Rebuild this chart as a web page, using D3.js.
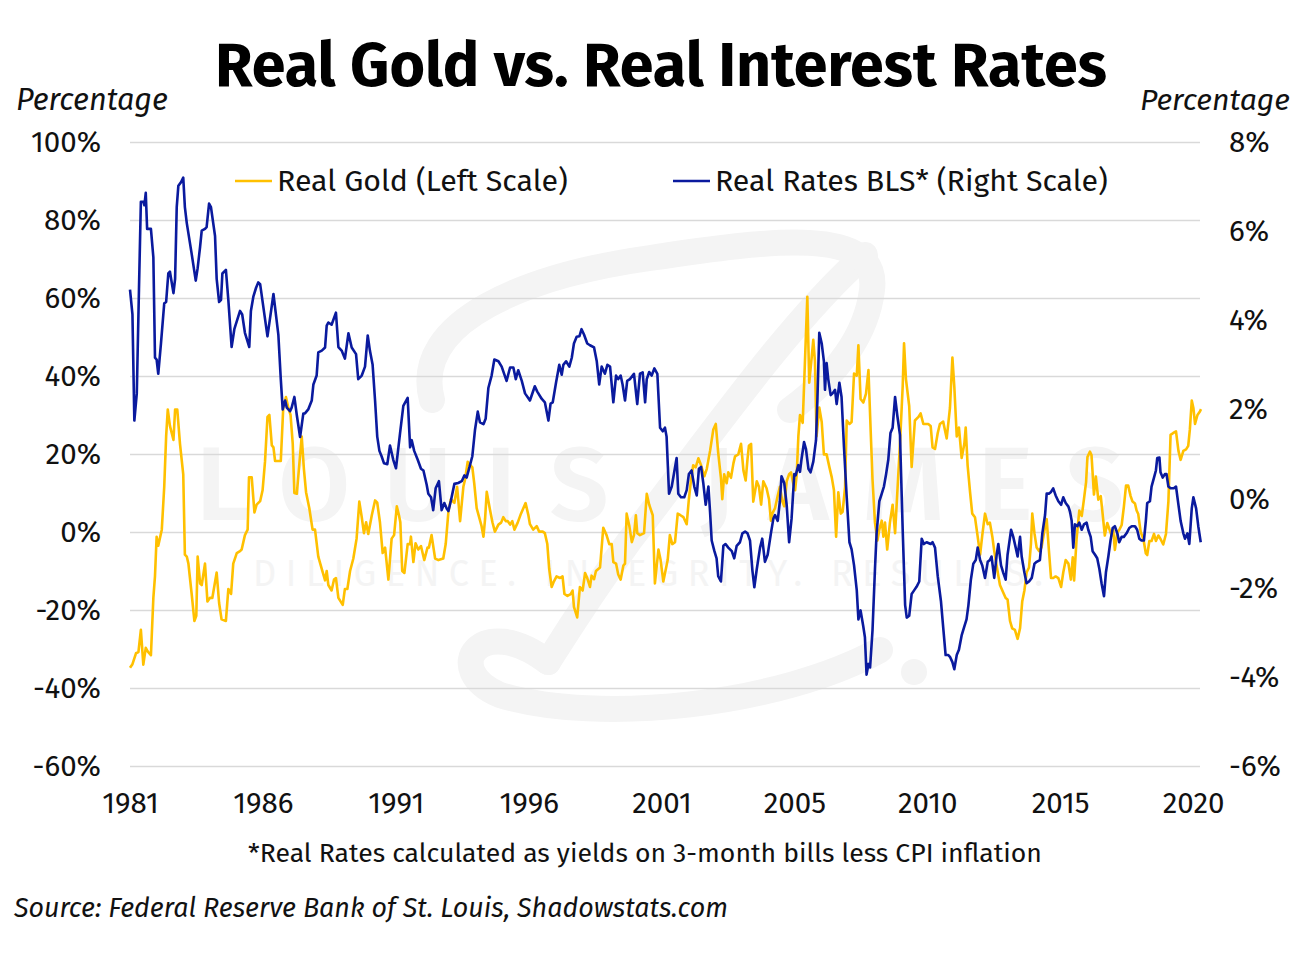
<!DOCTYPE html>
<html><head><meta charset="utf-8">
<script src="https://cdn.jsdelivr.net/npm/d3@7"></script>
<style>body{margin:0;background:#fff;} svg{display:block;} text{font-family:"Fira Sans","Open Sans",sans-serif;}</style>
</head><body>
<svg id="chart" width="1300" height="957"></svg>
<script>
// ---- DATA ----
const goldSeries = [[1981.00,-34.8],[1981.09,-33.9],[1981.22,-31.1],[1981.31,-30.8],[1981.40,-25.1],[1981.49,-34.0],[1981.58,-29.7],[1981.65,-30.6],[1981.77,-31.6],[1981.86,-16.9],[1981.92,-11.3],[1981.98,-1.2],[1982.04,-3.5],[1982.17,0.6],[1982.26,11.6],[1982.33,24.5],[1982.39,31.4],[1982.47,27.2],[1982.60,23.6],[1982.66,31.4],[1982.74,31.4],[1982.84,22.6],[1982.96,14.8],[1983.02,-5.8],[1983.09,-6.3],[1983.15,-8.1],[1983.27,-15.9],[1983.37,-22.8],[1983.44,-21.5],[1983.49,-6.3],[1983.58,-13.2],[1983.64,-13.6],[1983.76,-8.1],[1983.85,-17.8],[1983.94,-16.9],[1984.03,-16.9],[1984.19,-10.4],[1984.28,-18.2],[1984.37,-22.4],[1984.53,-22.8],[1984.62,-14.6],[1984.72,-15.9],[1984.80,-8.1],[1984.93,-5.4],[1985.05,-4.9],[1985.11,-4.5],[1985.23,-0.8],[1985.33,0.6],[1985.38,14.0],[1985.48,14.0],[1985.58,5.0],[1985.66,7.0],
[1985.79,7.9],[1985.88,10.7],[1985.97,18.1],[1986.06,29.5],[1986.13,30.0],[1986.22,22.2],[1986.28,21.7],[1986.34,18.2],[1986.46,18.2],[1986.55,18.2],[1986.64,31.8],[1986.74,34.6],[1986.83,31.8],[1986.91,30.0],[1986.99,22.6],[1987.05,10.0],[1987.14,9.8],[1987.23,17.2],[1987.32,24.5],[1987.40,16.2],[1987.48,10.2],[1987.60,6.1],[1987.72,0.6],[1987.81,0.6],[1987.93,-6.3],[1988.06,-9.5],[1988.18,-12.4],[1988.24,-10.0],[1988.30,-13.6],[1988.42,-15.0],[1988.51,-12.2],[1988.58,-11.8],[1988.67,-16.9],[1988.83,-18.7],[1988.91,-14.6],[1989.00,-14.6],[1989.10,-10.0],[1989.22,-6.8],[1989.34,-1.7],[1989.44,7.8],[1989.53,3.8],[1989.61,-0.3],[1989.69,2.5],[1989.77,-0.5],[1989.90,4.3],[1990.02,8.1],[1990.10,7.5],[1990.20,2.5],[1990.30,-5.4],[1990.39,-4.0],[1990.51,-12.2],[1990.63,-1.7],[1990.72,-0.8],[1990.82,6.6],[1990.90,4.3],[1990.95,2.5],
[1991.02,-10.0],[1991.10,-10.5],[1991.22,-3.1],[1991.31,-3.1],[1991.34,-1.2],[1991.43,-7.7],[1991.51,-2.9],[1991.61,-4.5],[1991.71,-3.6],[1991.83,-7.2],[1991.95,-4.0],[1992.00,-4.0],[1992.10,-0.8],[1992.23,-6.8],[1992.35,-7.2],[1992.53,-6.8],[1992.62,-3.1],[1992.72,5.2],[1992.81,8.4],[1992.94,7.5],[1993.04,11.6],[1993.15,2.8],[1993.27,11.6],[1993.33,13.4],[1993.43,18.0],[1993.48,17.5],[1993.60,16.6],[1993.67,12.5],[1993.76,6.1],[1993.85,3.8],[1993.94,1.5],[1994.01,-1.2],[1994.07,3.4],[1994.13,10.3],[1994.25,5.7],[1994.34,2.5],[1994.43,0.1],[1994.56,1.9],[1994.66,2.4],[1994.74,3.8],[1994.83,2.8],[1994.90,2.8],[1994.99,1.9],[1995.07,2.8],[1995.15,0.6],[1995.27,2.4],[1995.39,4.7],[1995.56,7.4],[1995.66,4.4],
[1995.72,2.0],[1995.84,0.6],[1995.97,1.5],[1996.06,0.1],[1996.19,0.1],[1996.27,-0.3],[1996.36,-3.1],[1996.43,-9.5],[1996.52,-14.1],[1996.60,-12.7],[1996.70,-11.4],[1996.83,-11.8],[1996.92,-11.4],[1996.99,-15.9],[1997.10,-16.4],[1997.22,-15.9],[1997.29,-15.0],[1997.34,-19.2],[1997.46,-21.9],[1997.56,-14.1],[1997.66,-15.0],[1997.75,-10.5],[1997.83,-11.8],[1997.93,-14.1],[1997.99,-11.2],[1998.08,-12.1],[1998.15,-10.0],[1998.30,-9.1],[1998.42,1.1],[1998.54,-0.8],[1998.64,-3.1],[1998.73,-3.1],[1998.79,-7.7],[1998.89,-8.1],[1998.97,-10.9],[1999.06,-12.2],[1999.16,-8.6],[1999.22,-8.1],[1999.28,4.7],[1999.38,1.5],[1999.47,-2.6],[1999.55,-0.8],[1999.62,4.3],[1999.67,-0.3],[1999.77,-0.8],[1999.92,-0.3],[2000.02,9.8],[2000.11,7.0],[2000.24,4.3],[2000.32,-13.2],[2000.45,-4.5],[2000.53,-7.2],[2000.63,-12.7],
[2000.79,-7.2],[2000.87,-0.8],[2000.96,-3.1],[2001.06,-2.6],[2001.16,4.7],[2001.26,4.3],[2001.37,3.8],[2001.49,2.0],[2001.57,8.4],[2001.65,13.4],[2001.73,17.1],[2001.82,16.6],[2001.92,18.9],[2002.02,17.1],[2002.14,14.3],[2002.23,16.2],[2002.35,20.8],[2002.47,26.3],[2002.56,27.7],[2002.65,20.3],[2002.75,13.9],[2002.80,8.4],[2002.87,14.8],[2002.96,12.5],[2003.02,15.3],[2003.12,13.9],[2003.21,17.6],[2003.27,19.4],[2003.39,19.9],[2003.49,22.6],[2003.58,15.7],[2003.66,13.2],[2003.73,18.8],[2003.78,22.1],[2003.86,22.6],[2003.94,7.8],[2004.07,13.0],[2004.15,11.6],[2004.23,7.0],[2004.31,13.0],[2004.43,11.2],[2004.52,8.4],[2004.59,2.9],[2004.64,4.7],[2004.74,6.1],[2004.84,9.3],[2004.92,11.6],[2005.01,7.9],[2005.08,6.6],[2005.17,13.0],[2005.26,14.8],[2005.33,15.3],[2005.41,12.5],[2005.48,10.7],[2005.54,14.8],[2005.60,24.5],
[2005.66,30.0],[2005.76,28.0],[2005.93,60.3],[2006.00,38.3],[2006.09,44.7],[2006.15,49.3],[2006.21,43.8],[2006.27,24.5],[2006.37,31.9],[2006.46,28.2],[2006.54,19.9],[2006.64,19.9],[2006.74,16.7],[2006.83,14.0],[2006.91,10.7],[2006.99,-1.2],[2007.07,10.2],[2007.16,4.7],[2007.23,5.2],[2007.32,11.6],[2007.38,28.6],[2007.48,27.7],[2007.56,28.2],[2007.65,40.6],[2007.75,40.1],[2007.81,47.9],[2007.89,34.1],[2007.99,33.2],[2008.09,35.5],[2008.18,41.5],[2008.26,26.3],[2008.33,13.4],[2008.42,2.4],[2008.51,-2.2],[2008.58,0.6],[2008.67,2.9],[2008.73,-1.2],[2008.79,2.4],[2008.87,-4.5],[2008.97,2.4],[2009.07,7.0],[2009.16,-0.3],[2009.24,9.8],[2009.34,22.6],[2009.44,37.3],[2009.49,48.4],[2009.56,39.2],[2009.68,32.3],[2009.77,16.7],[2009.83,22.6],[2009.89,28.6],[2010.02,29.5],[2010.10,30.4],[2010.20,27.7],[2010.30,27.7],[2010.38,27.7],[2010.47,27.2],[2010.54,21.7],
[2010.63,21.3],[2010.73,25.4],[2010.81,27.7],[2010.93,28.3],[2011.06,24.0],[2011.18,31.8],[2011.27,44.7],[2011.34,37.3],[2011.43,24.5],[2011.51,26.8],[2011.61,19.0],[2011.71,22.6],[2011.76,26.8],[2011.83,17.1],[2011.92,10.2],[2012.00,4.7],[2012.10,3.8],[2012.20,-1.2],[2012.29,-5.8],[2012.37,-0.8],[2012.47,4.7],[2012.57,2.0],[2012.65,2.4],[2012.74,-1.2],[2012.81,-4.9],[2012.94,-10.4],[2013.02,-13.6],[2013.14,-15.5],[2013.23,-16.9],[2013.30,-17.3],[2013.39,-22.8],[2013.47,-24.7],[2013.57,-25.1],[2013.67,-27.4],[2013.76,-24.7],[2013.84,-17.8],[2013.92,-15.0],[2014.00,-10.4],[2014.09,-9.1],[2014.16,-3.1],[2014.21,4.7],[2014.29,-0.3],[2014.37,-4.0],[2014.46,-4.9],[2014.55,-4.0],[2014.65,0.1],[2014.74,3.3],[2014.82,-4.5],[2014.90,-11.8],[2014.98,-11.8],[2015.07,-11.4],[2015.17,-11.8],[2015.27,-14.1],[2015.35,-10.4],[2015.44,-7.2],[2015.54,-8.1],
[2015.63,-12.2],[2015.70,-6.5],[2015.75,-12.4],[2015.84,-1.8],[2015.94,5.5],[2016.03,4.1],[2016.11,8.3],[2016.19,12.8],[2016.24,19.2],[2016.33,20.6],[2016.39,19.7],[2016.48,9.6],[2016.55,14.2],[2016.64,8.3],[2016.73,9.2],[2016.80,4.6],[2016.88,-0.9],[2016.97,2.3],[2017.04,0.9],[2017.13,-0.9],[2017.19,0.5],[2017.25,-4.6],[2017.34,0.0],[2017.41,0.5],[2017.50,1.8],[2017.58,6.4],[2017.66,11.9],[2017.74,11.9],[2017.83,9.2],[2017.90,7.8],[2017.99,7.3],[2018.05,5.5],[2018.11,4.6],[2018.20,0.0],[2018.30,-1.8],[2018.39,-5.5],[2018.44,-5.9],[2018.52,-2.3],[2018.60,-2.3],[2018.69,-0.5],[2018.76,-2.3],[2018.85,-0.9],[2018.93,-1.8],[2019.03,-3.2],[2019.13,-0.5],[2019.22,7.8],[2019.30,24.9],[2019.40,25.4],[2019.50,25.8],[2019.59,20.8],[2019.67,18.5],[2019.77,20.8],[2019.87,21.2],[2019.95,22.1],[2020.01,26.3],[2020.08,33.7],[2020.14,31.8],[2020.20,27.7],[2020.29,30.0],[2020.38,30.9],[2020.42,31.5]];

const rateSeries = [[1981.00,4.69],[1981.09,4.13],[1981.16,1.75],[1981.25,2.36],[1981.33,4.69],[1981.40,6.66],[1981.49,6.66],[1981.53,6.58],[1981.58,6.86],[1981.63,6.05],[1981.77,6.05],[1981.86,5.41],[1981.92,3.16],[1981.98,3.12],[1982.04,2.80],[1982.14,3.48],[1982.26,4.38],[1982.33,4.41],[1982.41,5.05],[1982.47,5.09],[1982.60,4.61],[1982.66,4.93],[1982.72,6.54],[1982.78,7.02],[1982.88,7.10],[1982.96,7.20],[1983.02,6.54],[1983.09,6.18],[1983.27,5.49],[1983.42,4.89],[1983.49,5.17],[1983.58,5.65],[1983.64,6.01],[1983.76,6.05],[1983.82,6.09],[1983.91,6.62],[1983.98,6.54],[1984.13,5.89],[1984.19,4.93],[1984.28,4.41],[1984.35,4.46],[1984.40,5.05],[1984.53,5.13],[1984.62,4.45],[1984.74,3.40],[1984.84,3.80],[1985.05,4.21],[1985.13,4.13],[1985.23,3.72],[1985.39,3.40],[1985.45,4.21],[1985.54,4.53],[1985.64,4.73],[1985.72,4.85],
[1985.79,4.81],[1986.06,3.64],[1986.28,4.59],[1986.46,3.68],[1986.55,2.68],[1986.62,2.00],[1986.71,2.20],[1986.77,2.04],[1986.89,1.96],[1986.95,2.04],[1987.05,2.28],[1987.14,1.87],[1987.26,1.38],[1987.38,1.91],[1987.44,1.91],[1987.56,2.00],[1987.69,2.20],[1987.75,2.56],[1987.87,2.76],[1987.93,3.28],[1988.06,3.32],[1988.18,3.39],[1988.24,3.88],[1988.30,3.95],[1988.42,3.90],[1988.48,4.00],[1988.58,4.17],[1988.67,3.40],[1988.79,3.32],[1988.91,3.14],[1989.04,3.71],[1989.16,3.39],[1989.32,3.24],[1989.40,2.68],[1989.53,2.76],[1989.65,2.96],[1989.75,3.66],[1989.83,3.32],[1989.93,3.00],[1990.02,2.20],[1990.10,1.39],[1990.18,1.07],[1990.26,0.95],[1990.35,0.79],[1990.47,0.77],[1990.57,1.19],[1990.69,0.87],
[1990.79,0.68],[1990.94,1.47],[1991.06,2.08],[1991.22,2.26],[1991.31,1.15],[1991.37,1.31],[1991.46,1.07],[1991.59,0.87],[1991.71,0.67],[1991.80,0.63],[1991.92,0.31],[1991.98,0.11],[1992.08,0.03],[1992.16,-0.26],[1992.25,0.23],[1992.37,0.39],[1992.47,-0.26],[1992.57,-0.10],[1992.66,-0.23],[1992.72,-0.28],[1992.81,-0.05],[1992.94,0.33],[1993.08,0.35],[1993.21,0.39],[1993.31,0.52],[1993.39,0.47],[1993.48,0.67],[1993.60,0.95],[1993.70,1.55],[1993.80,1.95],[1993.88,1.71],[1994.01,1.67],[1994.09,1.79],[1994.19,2.48],[1994.31,2.76],[1994.41,3.12],[1994.56,3.08],[1994.68,2.96],[1994.86,2.64],[1994.99,2.94],[1995.11,2.94],[1995.20,2.68],[1995.29,2.88],[1995.42,2.64],[1995.54,2.36],[1995.72,2.20],
[1995.90,2.52],[1995.99,2.40],[1996.15,2.24],[1996.27,2.16],[1996.40,1.75],[1996.48,2.13],[1996.56,2.16],[1996.68,2.60],[1996.80,3.00],[1996.89,2.78],[1996.95,3.00],[1997.05,3.08],[1997.17,2.96],[1997.26,3.16],[1997.34,3.48],[1997.44,3.63],[1997.54,3.64],[1997.62,3.80],[1997.71,3.68],[1997.83,3.48],[1997.93,3.44],[1998.08,3.39],[1998.18,3.08],[1998.27,2.56],[1998.36,2.96],[1998.48,2.80],[1998.57,3.00],[1998.67,2.96],[1998.79,2.16],[1998.89,2.76],[1998.97,2.68],[1999.06,2.76],[1999.13,2.56],[1999.22,2.20],[1999.30,2.64],[1999.40,2.68],[1999.55,2.80],[1999.67,2.12],[1999.77,2.80],[1999.87,2.83],[1999.96,2.16],[2000.02,2.68],[2000.11,2.84],[2000.20,2.76],[2000.30,2.92],[2000.41,2.80],[2000.51,1.59],[2000.61,1.51],[2000.69,1.59],
[2000.75,1.39],[2000.84,0.11],[2000.94,0.27],[2001.03,0.59],[2001.12,0.91],[2001.18,0.11],[2001.28,0.03],[2001.40,0.03],[2001.49,0.19],[2001.57,0.55],[2001.67,0.63],[2001.77,0.27],[2001.86,0.07],[2001.94,0.67],[2002.02,0.71],[2002.10,0.35],[2002.19,-0.14],[2002.29,0.27],[2002.35,-0.30],[2002.41,-0.94],[2002.51,-1.18],[2002.59,-1.34],[2002.65,-1.74],[2002.75,-1.86],[2002.84,-1.06],[2002.92,-1.02],[2003.02,-1.10],[2003.15,-1.18],[2003.24,-1.34],[2003.33,-1.06],[2003.45,-0.98],[2003.54,-0.78],[2003.64,-0.74],[2003.73,-0.78],[2003.82,-0.94],[2003.91,-1.62],[2003.98,-1.99],[2004.07,-1.58],[2004.19,-1.10],[2004.27,-0.90],[2004.37,-1.42],[2004.47,-1.26],[2004.59,-0.78],[2004.68,-0.45],[2004.74,-0.37],[2004.84,-0.50],[2004.92,-0.06],[2004.98,0.50],[2005.08,0.35],[2005.17,-0.14],[2005.26,-0.98],[2005.35,-0.45],[2005.45,0.55],[2005.50,0.52],[2005.60,0.75],
[2005.66,0.60],[2005.72,0.90],[2005.81,1.27],[2005.88,1.11],[2005.97,0.67],[2006.05,0.59],[2006.15,0.83],[2006.25,1.31],[2006.30,2.20],[2006.37,3.72],[2006.46,3.48],[2006.54,3.08],[2006.58,2.44],[2006.64,3.04],[2006.70,2.68],[2006.79,2.32],[2006.86,2.36],[2006.95,2.44],[2007.01,2.12],[2007.11,2.60],[2007.19,2.28],[2007.28,1.15],[2007.38,0.03],[2007.48,-0.98],[2007.56,-1.14],[2007.65,-1.50],[2007.75,-2.06],[2007.81,-2.71],[2007.89,-2.51],[2007.99,-2.87],[2008.05,-3.11],[2008.11,-3.95],[2008.18,-3.71],[2008.24,-3.79],[2008.33,-2.95],[2008.42,-1.58],[2008.48,-0.78],[2008.58,-0.06],[2008.67,0.11],[2008.75,0.27],[2008.83,0.55],[2008.91,0.87],[2008.99,1.47],[2009.07,1.59],[2009.16,2.28],[2009.24,1.87],[2009.34,1.43],[2009.44,-0.70],[2009.53,-2.39],[2009.59,-2.67],[2009.68,-2.63],[2009.77,-2.14],[2009.86,-2.06],[2009.95,-1.98],[2010.05,-1.86],[2010.14,-0.90],[2010.22,-1.02],[2010.32,-0.98],[2010.47,-1.02],[2010.54,-0.98],[2010.63,-1.10],
[2010.73,-1.74],[2010.85,-2.31],[2010.94,-2.95],[2011.02,-3.51],[2011.12,-3.51],[2011.18,-3.55],[2011.27,-3.67],[2011.34,-3.83],[2011.43,-3.51],[2011.51,-3.39],[2011.61,-3.07],[2011.71,-2.87],[2011.79,-2.71],[2011.86,-2.39],[2011.95,-1.82],[2012.04,-1.46],[2012.13,-1.38],[2012.20,-1.10],[2012.29,-1.38],[2012.37,-1.50],[2012.47,-1.78],[2012.57,-1.42],[2012.65,-1.38],[2012.71,-1.30],[2012.81,-1.78],[2012.90,-1.26],[2012.96,-1.02],[2013.06,-1.50],[2013.14,-1.66],[2013.23,-1.82],[2013.30,-1.26],[2013.43,-0.70],[2013.51,-0.86],[2013.60,-1.10],[2013.67,-1.30],[2013.76,-0.86],[2013.82,-1.30],[2013.92,-1.66],[2014.00,-1.90],[2014.09,-1.86],[2014.19,-1.78],[2014.29,-1.46],[2014.37,-1.42],[2014.49,-1.38],[2014.58,-0.78],[2014.68,-0.37],[2014.74,0.11],[2014.82,0.11],[2014.90,0.15],[2014.98,0.23],[2015.07,0.07],[2015.17,-0.06],[2015.27,-0.14],[2015.35,0.03],[2015.44,-0.10],[2015.54,-0.18],
[2015.60,-0.30],[2015.66,-0.50],[2015.72,-1.10],[2015.78,-0.58],[2015.87,-0.62],[2015.94,-0.54],[2016.03,-0.70],[2016.11,-0.58],[2016.21,-0.54],[2016.27,-0.70],[2016.36,-0.86],[2016.43,-1.18],[2016.52,-1.26],[2016.60,-1.34],[2016.68,-1.58],[2016.76,-1.90],[2016.85,-2.19],[2016.92,-1.66],[2017.01,-1.30],[2017.09,-0.94],[2017.17,-0.66],[2017.25,-0.62],[2017.34,-0.78],[2017.41,-0.98],[2017.50,-0.86],[2017.58,-0.86],[2017.68,-0.78],[2017.78,-0.66],[2017.87,-0.62],[2017.99,-0.62],[2018.07,-0.70],[2018.15,-0.90],[2018.23,-0.94],[2018.32,-0.94],[2018.39,-0.50],[2018.44,-0.10],[2018.54,-0.06],[2018.60,0.27],[2018.69,0.47],[2018.76,0.63],[2018.81,0.91],[2018.89,0.92],[2018.93,0.59],[2019.01,0.47],[2019.09,0.55],[2019.15,0.55],[2019.22,0.27],[2019.30,0.23],[2019.42,0.23],[2019.50,0.27],[2019.59,-0.14],[2019.67,-0.50],[2019.77,-0.78],[2019.83,-0.90],[2019.92,-0.78],[2019.99,-1.02],[2020.08,-0.22],[2020.14,0.03],[2020.24,-0.22],[2020.32,-0.62],[2020.41,-0.98]];

const leftTicks = [100,80,60,40,20,0,-20,-40,-60];
const rightTicks = [8,6,4,2,0,-2,-4,-6];
const yearLabels = ["1981","1986","1991","1996","2001","2005","2010","2015","2020"];
const seriesNames = ["Real Gold (Left Scale)","Real Rates BLS* (Right Scale)"];
const titleText = "Real Gold vs. Real Interest Rates";
const footnote = "*Real Rates calculated as yields on 3-month bills less CPI inflation";
const sourceText = "Source: Federal Reserve Bank of St. Louis, Shadowstats.com";

// ---- LAYOUT ----
const GOLD = "#ffc000", BLUE = "#0a1a9e";
const FONT = "'Fira Sans','Open Sans',sans-serif";
const startYear = 1981, endYear = 2020.42, labelStep = 4.891;
const svg = d3.select("#chart");
const plot = {left:130, right:1201, top:142, bottom:766, gridRight:1200};

const x = d3.scaleLinear().domain([startYear, endYear]).range([plot.left, plot.right]);
const yL = d3.scaleLinear().domain([-60, 100]).range([plot.bottom, plot.top]);
const yR = d3.scaleLinear().domain([-6, 8]).range([plot.bottom, plot.top]);

function fit(sel, w) {
  const n = sel.node();
  const cur = n.getComputedTextLength();
  const fs = parseFloat(sel.attr("font-size"));
  if (cur > 0) sel.attr("font-size", (fs * w / cur).toFixed(2));
  return sel;
}

// ---- faint watermark (logo strokes + texts) ----
const wm = svg.append("g");
const logo = wm.append("g").attr("fill", "none").attr("stroke", "#f4f4f4")
  .attr("stroke-width", 26).attr("stroke-linecap", "round");
const p1 = d3.path(); p1.moveTo(865, 255); p1.bezierCurveTo(790, 320, 700, 450, 630, 540); p1.bezierCurveTo(590, 595, 565, 635, 548, 662);
const p2 = d3.path(); p2.moveTo(432, 400); p2.bezierCurveTo(410, 320, 530, 275, 650, 258); p2.bezierCurveTo(770, 240, 880, 225, 872, 290); p2.bezierCurveTo(866, 340, 830, 380, 790, 410);
const p3 = d3.path(); p3.moveTo(548, 662); p3.bezierCurveTo(480, 610, 440, 670, 500, 695); p3.bezierCurveTo(600, 725, 780, 705, 880, 650);
[p1, p2, p3].forEach(p => logo.append("path").attr("d", p.toString()));
wm.append("circle").attr("cx", 914).attr("cy", 672).attr("r", 13).attr("fill", "#f4f4f4");
wm.append("text").attr("x", 196).attr("y", 520).attr("font-size", 104).attr("font-weight", 600)
  .attr("fill", "#f4f4f4").attr("textLength", 928).attr("lengthAdjust", "spacing").text("LOUIS JAMES");
wm.append("text").attr("x", 253).attr("y", 586).attr("font-size", 36).attr("fill", "#f4f4f4")
  .attr("textLength", 790).attr("lengthAdjust", "spacing").text("DILIGENCE. INTEGRITY. RESULTS.");

// ---- gridlines + left axis ----
const gAxisL = svg.append("g").attr("transform", `translate(${plot.left},0)`)
  .call(d3.axisLeft(yL).tickValues(leftTicks).tickSize(-(plot.gridRight - plot.left)).tickPadding(29)
        .tickFormat(d => d + "%"));
gAxisL.select(".domain").remove();
gAxisL.selectAll(".tick line").attr("stroke", "#d9d9d9").attr("stroke-width", 1.5);
gAxisL.selectAll(".tick text").attr("font-size", 29.5).attr("fill", "#111").attr("font-family", FONT);

// ---- right axis (labels only) ----
const gAxisR = svg.append("g").attr("transform", `translate(1229,0)`)
  .call(d3.axisRight(yR).tickValues(rightTicks).tickSize(0).tickPadding(0).tickFormat(d => d + "%"));
gAxisR.select(".domain").remove();
gAxisR.selectAll(".tick text").attr("font-size", 29.5).attr("fill", "#111").attr("font-family", FONT);

// ---- x axis labels ----
const xTicks = yearLabels.map((l, i) => startYear + i * labelStep);
const gAxisX = svg.append("g").attr("transform", `translate(0,${plot.bottom})`)
  .call(d3.axisBottom(x).tickValues(xTicks).tickSize(0).tickPadding(26)
        .tickFormat((d, i) => yearLabels[i]));
gAxisX.select(".domain").remove();
gAxisX.selectAll(".tick text").attr("font-size", 29.5).attr("fill", "#111").attr("font-family", FONT);

// ---- lines ----
const lineL = d3.line().x(d => x(d[0])).y(d => yL(d[1]));
const lineR = d3.line().x(d => x(d[0])).y(d => yR(d[1]));
svg.append("path").datum(goldSeries).attr("d", lineL).attr("fill", "none")
  .attr("stroke", GOLD).attr("stroke-width", 2.6).attr("stroke-linejoin", "round");
svg.append("path").datum(rateSeries).attr("d", lineR).attr("fill", "none")
  .attr("stroke", BLUE).attr("stroke-width", 2.6).attr("stroke-linejoin", "round");

// ---- legend ----
const legend = [
  {name: seriesNames[0], color: GOLD, x0: 235, tw: 291},
  {name: seriesNames[1], color: BLUE, x0: 673, tw: 393}
];
legend.forEach(l => {
  svg.append("line").attr("x1", l.x0).attr("x2", l.x0 + 37).attr("y1", 181).attr("y2", 181)
    .attr("stroke", l.color).attr("stroke-width", 2.6);
  fit(svg.append("text").attr("x", l.x0 + 42).attr("y", 191).attr("font-size", 28).attr("fill", "#111").text(l.name), l.tw);
});

// ---- titles and notes ----
fit(svg.append("text").attr("x", 661).attr("y", 86).attr("text-anchor", "middle")
  .attr("font-size", 60).attr("font-weight", 700).attr("fill", "#000").text(titleText), 892);
fit(svg.append("text").attr("x", 16).attr("y", 110).attr("font-size", 27).attr("font-style", "italic")
  .attr("fill", "#111").text("Percentage"), 152);
fit(svg.append("text").attr("x", 1290).attr("y", 110).attr("text-anchor", "end").attr("font-size", 27)
  .attr("font-style", "italic").attr("fill", "#111").text("Percentage"), 150);
fit(svg.append("text").attr("x", 645).attr("y", 862).attr("text-anchor", "middle").attr("font-size", 25)
  .attr("fill", "#111").text(footnote), 794);
fit(svg.append("text").attr("x", 14).attr("y", 917).attr("font-size", 25).attr("font-style", "italic")
  .attr("fill", "#111").text(sourceText), 714);
</script>
</body></html>
